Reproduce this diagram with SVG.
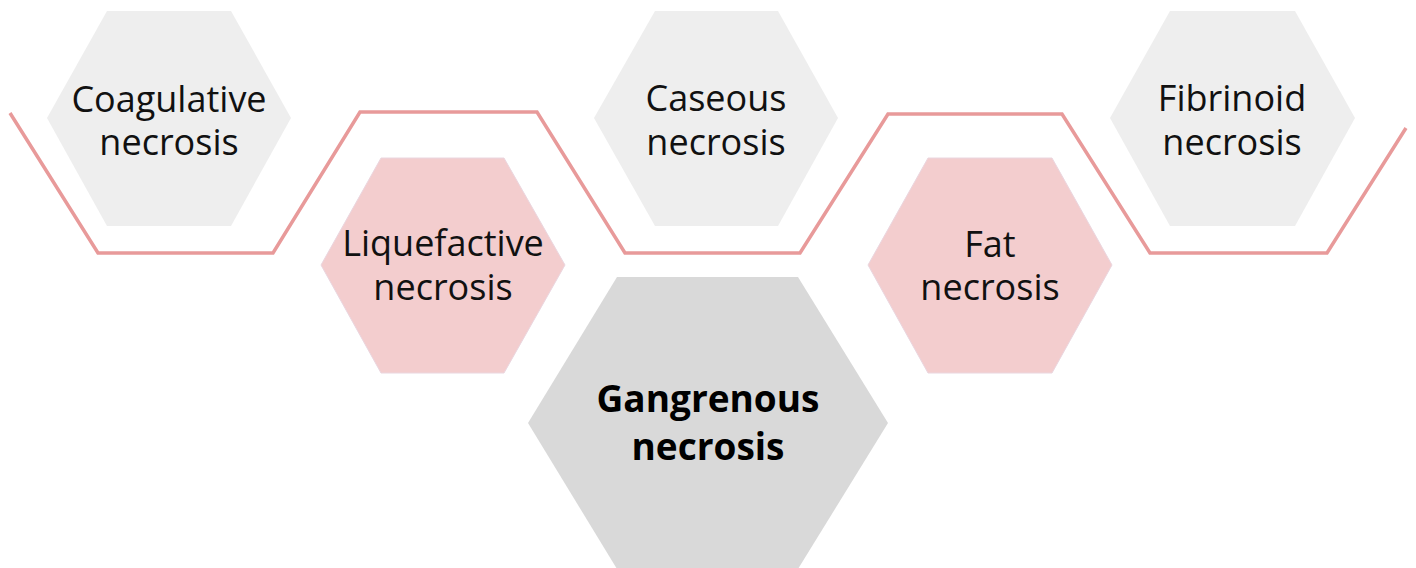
<svg xmlns="http://www.w3.org/2000/svg" width="1416" height="568" viewBox="0 0 1416 568">
<style>
.grey{fill:#EEEEEE}
.pink{fill:#F3CDCE;stroke:#EAD6DF;stroke-width:1}
.dark{fill:#D9D9D9}
.lbl{font-family:"Open Sans","Liberation Sans",sans-serif;font-size:36px;fill:#111;text-anchor:middle}
.bold{font-family:"Open Sans","Liberation Sans",sans-serif;font-size:37px;font-weight:700;fill:#000;text-anchor:middle}
.line{fill:none;stroke:#E89A9A;stroke-width:3.5;stroke-linejoin:miter}
</style>
<rect width="1416" height="568" fill="#FFFFFF"/>
<g id="connectors">
<polyline class="line" points="10,113 98,253 273,253 360,112 537,112 625,253 800,253 888,114 1062,114 1150,253 1327,253 1406,128"/>
</g>
<g id="coagulative">
<polygon class="grey" points="47,118 107,11 231,11 291,118 231,226 107,226"/>
<text class="lbl" x="169" y="112">Coagulative</text>
<text class="lbl" x="169" y="155">necrosis</text>
</g>
<g id="liquefactive">
<polygon class="pink" points="321,265 381,158 504,158 565,265 504,373 381,373"/>
<text class="lbl" x="443" y="256">Liquefactive</text>
<text class="lbl" x="443" y="300">necrosis</text>
</g>
<g id="caseous">
<polygon class="grey" points="594,118 655,11 778,11 838,118 778,226 655,226"/>
<text class="lbl" x="716" y="111">Caseous</text>
<text class="lbl" x="716" y="155">necrosis</text>
</g>
<g id="fat">
<polygon class="pink" points="868,265 928,158 1052,158 1112,265 1052,373 928,373"/>
<text class="lbl" x="990" y="257">Fat</text>
<text class="lbl" x="990" y="300">necrosis</text>
</g>
<g id="fibrinoid">
<polygon class="grey" points="1110,118 1170,11 1295,11 1355,118 1295,226 1170,226"/>
<text class="lbl" x="1232" y="111">Fibrinoid</text>
<text class="lbl" x="1232" y="155">necrosis</text>
</g>
<g id="gangrenous">
<polygon class="dark" points="528,423 617,277 798,277 888,423 798,569 617,569"/>
<text class="bold" x="708" y="412">Gangrenous</text>
<text class="bold" x="708" y="460">necrosis</text>
</g>
</svg>
